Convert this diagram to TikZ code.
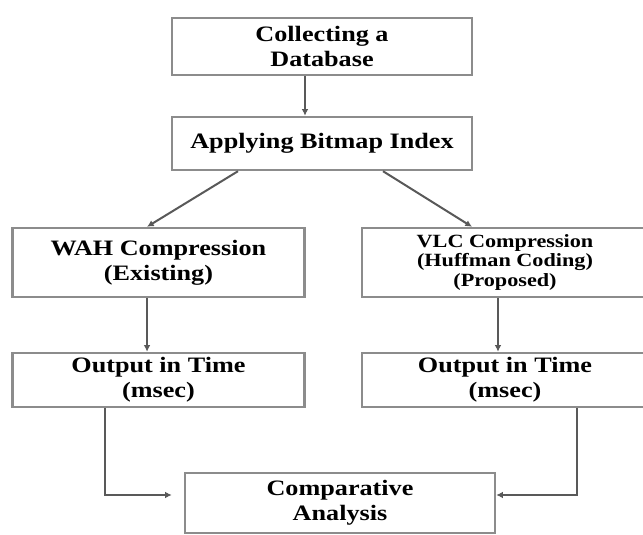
\documentclass[tikz,border=0pt]{standalone}
\usepackage{fontspec}
\setmainfont{Liberation Serif}[FakeStretch=1.19]
\usetikzlibrary{arrows.meta}

\begin{document}
\begin{tikzpicture}[x=0.75pt,y=-0.75pt]
  \tikzset{box/.style = {draw=black!45, line width=1.8pt, align=center, inner sep=0pt,
      font=\fontsize{16.5}{19}\selectfont\bfseries}}
  \tikzset{flow/.style = {draw=black!65, line width=1.5pt, -{Latex[length=5pt,width=5pt]}}}

  \useasboundingbox (0,0) rectangle (643,535);

\node[box, minimum width=225pt, minimum height=42.75pt] (collect) at (322,46.5) {Collecting a\\Database};
\node[box, minimum width=225pt, minimum height=39.75pt] (bitmap) at (322,143.5) {Applying Bitmap Index};

\node[box, minimum width=219pt, minimum height=51.75pt] (wah) at (158.5,262.5) {WAH Compression\\(Existing)};
\node[box, minimum width=214.5pt, minimum height=51.75pt, font=\fontsize{14}{14.5}\selectfont\bfseries] (vlc) at (505,262.5) {VLC Compression\\(Huffman Coding)\\(Proposed)};

\node[box, minimum width=219pt, minimum height=40.5pt] (outL) at (158.5,380) {Output in Time\\(msec)};
\node[box, minimum width=214.5pt, minimum height=40.5pt] (outR) at (505,380) {Output in Time\\(msec)};

\node[box, minimum width=232.5pt, minimum height=45pt] (comp) at (340,503) {Comparative\\Analysis};

  % top part
  \draw[flow] ([xshift=-12.75pt]collect.south) -- ([xshift=-12.75pt]bitmap.north);
  \draw[flow] ([xshift=-63pt]bitmap.south) -- ([xshift=-8.6pt]wah.north);
  \draw[flow] ([xshift=45.75pt]bitmap.south) -- ([xshift=-24.75pt]vlc.north);

  % the two branches
  \draw[flow] ([xshift=-8.6pt]wah.south) -- ([xshift=-8.6pt]outL.north);
  \draw[flow] ([xshift=-5.25pt]vlc.south) -- ([xshift=-5.25pt]outR.north);

  % into the comparison
  \draw[flow, shorten >=9pt] ([xshift=-40pt]outL.south) |- ([yshift=6pt]comp.west);
  \draw[flow] ([xshift=54pt]outR.south) |- ([yshift=6pt]comp.east);

\end{tikzpicture}
\end{document}
